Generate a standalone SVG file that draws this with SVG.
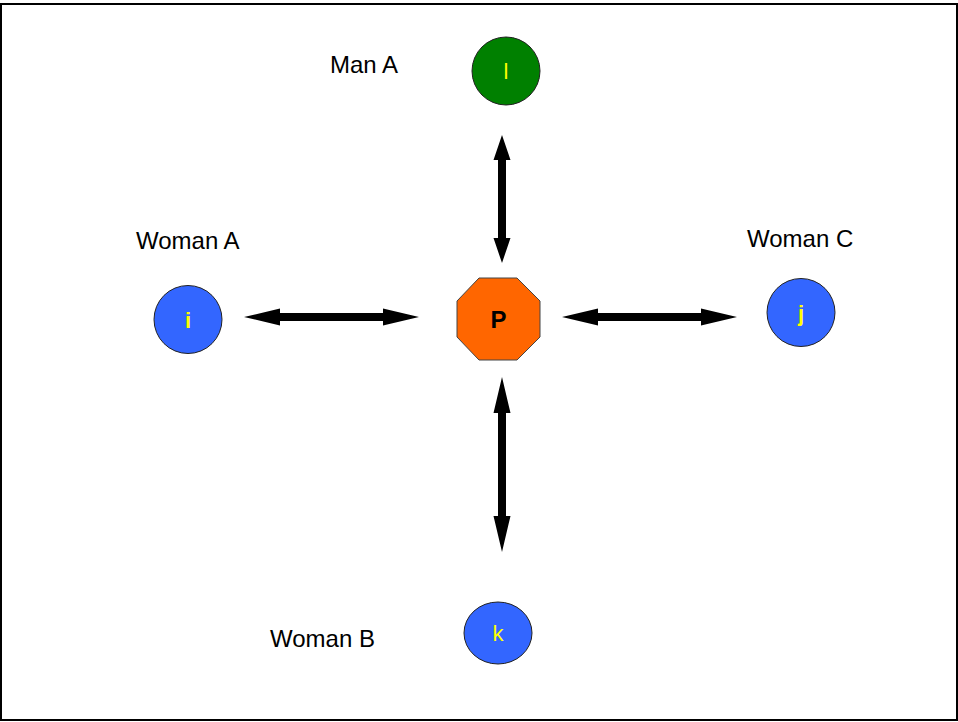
<svg xmlns="http://www.w3.org/2000/svg" width="958" height="722" viewBox="0 0 958 722">
<style>
.lbl{font-family:"Liberation Sans",Arial,sans-serif;font-size:24px;fill:#000}
.nt{font-family:"Liberation Sans",Arial,sans-serif;font-size:22px;fill:#FFFF00;text-anchor:middle}
.circ{stroke:#222;stroke-width:1}
.arr{fill:#000}
</style>
<rect x="1" y="4" width="956" height="716" fill="#fff" stroke="#000" stroke-width="2"/>
<g id="connectors">
<path class="arr" d="M244,317 L280,308.5 L280,313 L383,313 L383,308.5 L419,317 L383,325.5 L383,321 L280,321 L280,325.5 Z"/>
<path class="arr" d="M562,317 L598,308.5 L598,313 L701,313 L701,308.5 L737,317 L701,325.5 L701,321 L598,321 L598,325.5 Z"/>
<path class="arr" d="M502,135 L510.5,160 L506,160 L506,238 L510.5,238 L502,263 L493.5,238 L498,238 L498,160 L493.5,160 Z"/>
<path class="arr" d="M502,377 L510.5,413 L506,413 L506,516 L510.5,516 L502,552 L493.5,516 L498,516 L498,413 L493.5,413 Z"/>
</g>
<g id="node-P">
<polygon points="479,278 517,278 540,301 540,337 517,360 479,360 457,337 457,301" fill="#FF6600" stroke="#444" stroke-width="1"/>
<text x="498.5" y="328" font-family="Liberation Sans,Arial,sans-serif" font-size="24" font-weight="bold" text-anchor="middle" fill="#000">P</text>
</g>
<g id="node-l">
<circle class="circ" cx="506" cy="71" r="34" fill="#008000"/>
<text class="nt" x="506" y="79">l</text>
<text class="lbl" x="330" y="73">Man A</text>
</g>
<g id="node-i">
<circle class="circ" cx="188" cy="319.5" r="34" fill="#3366FF"/>
<text class="nt" x="188" y="328" font-weight="bold">i</text>
<text class="lbl" x="136" y="249">Woman A</text>
</g>
<g id="node-j">
<circle class="circ" cx="801" cy="312.5" r="34" fill="#3366FF"/>
<text class="nt" x="801" y="321" font-weight="bold">j</text>
<text class="lbl" x="747" y="247">Woman C</text>
</g>
<g id="node-k">
<ellipse class="circ" cx="498" cy="633" rx="34" ry="31" fill="#3366FF"/>
<text class="nt" x="498" y="641">k</text>
<text class="lbl" x="270" y="647">Woman B</text>
</g>
</svg>
